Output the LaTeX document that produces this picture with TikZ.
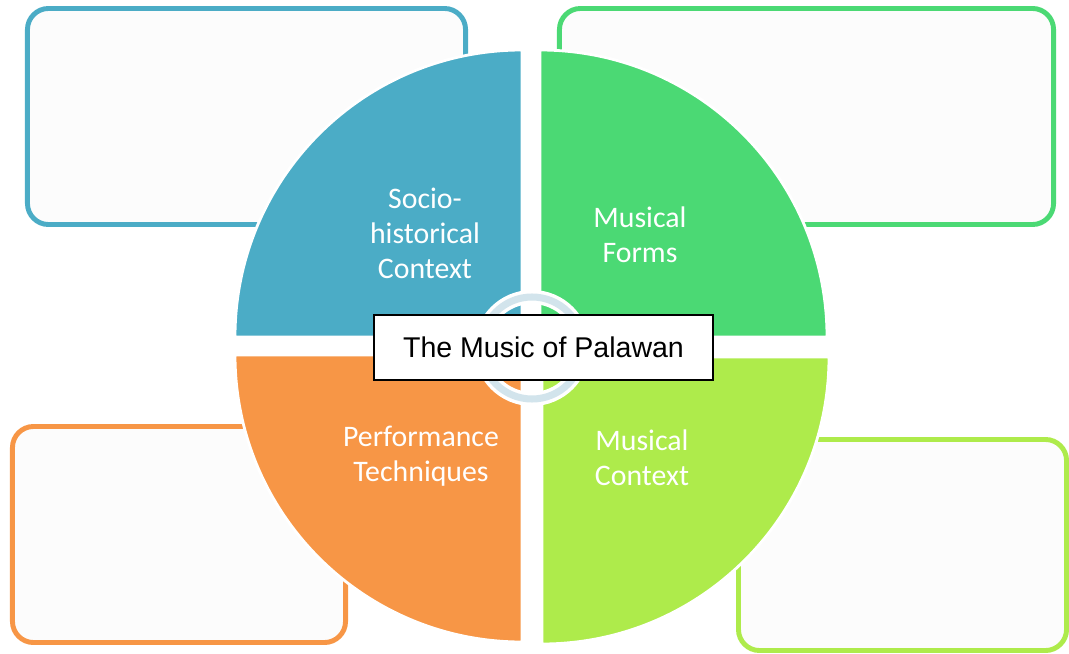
\documentclass[tikz,border=0pt]{standalone}
\usepackage{fontspec}
\setmainfont{Carlito}
\newfontfamily\arialfont{Liberation Sans}
\definecolor{socioblue}{HTML}{4BACC6}
\definecolor{formgreen}{HTML}{4BD974}
\definecolor{perforange}{HTML}{F79646}
\definecolor{contextlime}{HTML}{AEEB4B}
\definecolor{ringblue}{HTML}{D2E4EC}
\definecolor{boxfill}{HTML}{FCFCFC}
\begin{document}
\begin{tikzpicture}[x=0.025cm,y=0.025cm,
 infobox/.style={rectangle,rounded corners=15pt,line width=3.5pt,fill=boxfill,inner sep=0pt},
 quarter/.style={draw=white,line width=2pt},
 qlabel/.style={text=white,align=center,font=\fontsize{21.2}{24.9}\selectfont},
 title/.style={draw=black,fill=white,line width=1pt,inner sep=0pt,
   minimum width=8.475cm,minimum height=1.625cm,font=\arialfont\fontsize{20.3}{24}\selectfont}]
 \useasboundingbox (0,0) rectangle (1069,653);
 % empty note boxes behind the wheel
 \node[infobox,draw=socioblue,minimum width=10.95cm,minimum height=5.4cm] (nSocio) at (246.5,536.5) {};
 \node[infobox,draw=formgreen,minimum width=12.35cm,minimum height=5.4cm] (nForms) at (806.5,536.5) {};
 \node[infobox,draw=perforange,minimum width=8.325cm,minimum height=5.4cm] (nPerf) at (179,118.5) {};
 \node[infobox,draw=contextlime,minimum width=8.2cm,minimum height=5.275cm] (nContext) at (902.5,108) {};
 % the four quarters of the wheel
 \filldraw[quarter,fill=socioblue] (522,316) -- ++(-287,0) arc[start angle=180,end angle=90,radius=287] -- cycle;
 \filldraw[quarter,fill=formgreen] (540,316) -- ++(0,287) arc[start angle=90,end angle=0,radius=287] -- cycle;
 \filldraw[quarter,fill=perforange] (522,298) -- ++(0,-287) arc[start angle=270,end angle=180,radius=287] -- cycle;
 \filldraw[quarter,fill=contextlime] (542,296) -- ++(287,0) arc[start angle=0,end angle=-90,radius=287] -- cycle;
 % hub ring
 \coordinate (hub) at (532,305);
 \draw[white,line width=10pt] (hub) circle[radius=51];
 \draw[ringblue,line width=5pt] (hub) circle[radius=51];
 \node[qlabel] (lSocio) at (425,419.5) {Socio-\\historical\\Context};
 \node[qlabel] (lForms) at (640,418) {Musical\\Forms};
 \node[qlabel] (lPerf) at (421,197) {Performance\\Techniques};
 \node[qlabel] (lContext) at (642,195.5) {Musical\\Context};
 \node[title] (topic) at (543.5,305.5) {The Music of Palawan};
\end{tikzpicture}
\end{document}
